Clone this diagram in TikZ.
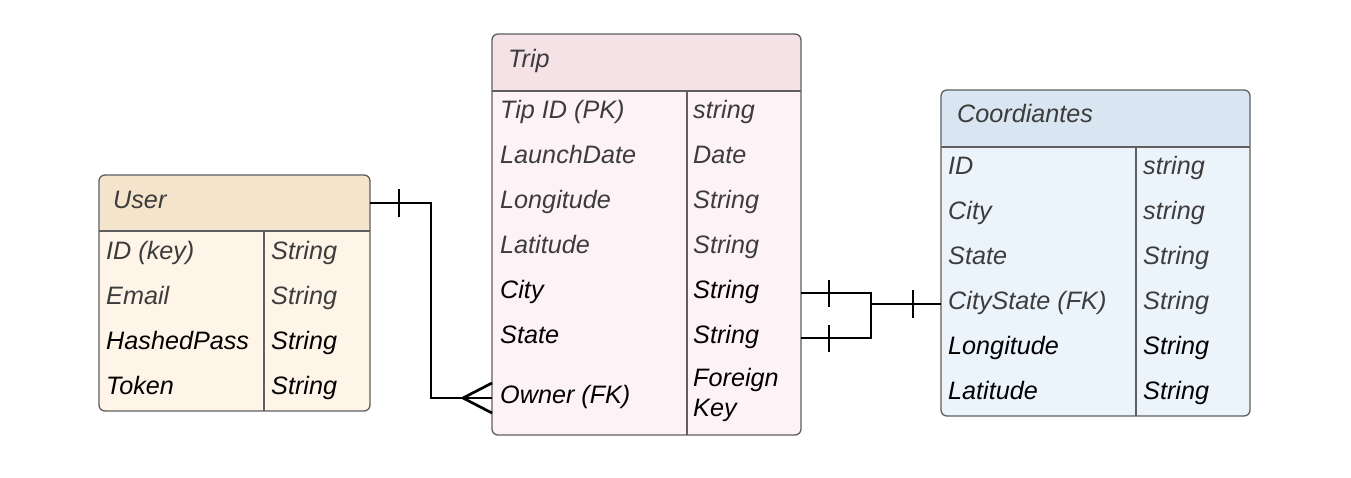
\documentclass[tikz,border=0pt]{standalone}
\usepackage{fontspec}
\setmainfont{Liberation Sans}
\begin{document}
\begin{tikzpicture}[x=1pt,y=-1pt,
  tbl/.style={draw=bordergrey, line width=1.3pt, rounded corners=6pt, anchor=north west, inner sep=0pt, outer sep=0pt},
  sep/.style={draw=bordergrey, line width=1.3pt},
  txt/.style={anchor=base west, inner sep=0pt, font=\fontsize{25.2}{30}\selectfont\itshape, text=txtgrey},
  txtb/.style={txt, text=black},
  conn/.style={draw=black, line width=2.7pt},
  tick/.style={draw=black, line width=2.7pt}]
\definecolor{bordergrey}{HTML}{5F5F5F}
\definecolor{txtgrey}{HTML}{3C3C3C}
\definecolor{userhead}{HTML}{F5E4CC}
\definecolor{userbody}{HTML}{FEF4E7}
\definecolor{triphead}{HTML}{F4E2E6}
\definecolor{tripbody}{HTML}{FDF2F5}
\definecolor{coordhead}{HTML}{D9E6F1}
\definecolor{coordbody}{HTML}{EBF3FB}
\useasboundingbox (0,0) rectangle (1351,477);
\fill[white] (0,0) rectangle (1351,477);

% ---------- User ----------
\node[tbl, fill=userbody, minimum width=271pt, minimum height=236pt,
  path picture={\fill[userhead] (path picture bounding box.north west) rectangle ([yshift=-56pt]path picture bounding box.north east);}]
  (user) at (99,175) {};
\draw[sep] (99,231) -- (370,231);
\draw[sep] (264,231) -- (264,411);
\node[txt] (userT) at (113,208) {User};
\node[txt] (u1a) at (106,259) {ID (key)};
\node[txt] (u1b) at (271,259) {String};
\node[txt] (u2a) at (106,304) {Email};
\node[txt] (u2b) at (271,304) {String};
\node[txtb] (u3a) at (106,349) {HashedPass};
\node[txtb] (u3b) at (271,349) {String};
\node[txtb] (u4a) at (106,394) {Token};
\node[txtb] (u4b) at (271,394) {String};

% ---------- Trip ----------
\node[tbl, fill=tripbody, minimum width=309pt, minimum height=401pt,
  path picture={\fill[triphead] (path picture bounding box.north west) rectangle ([yshift=-57pt]path picture bounding box.north east);}]
  (trip) at (492,34) {};
\draw[sep] (492,91) -- (801,91);
\draw[sep] (687,91) -- (687,435);
\node[txt] (tripT) at (508,67) {Trip};
\node[txt] (t1a) at (500,118) {Tip ID (PK)};
\node[txt] (t1b) at (693,118) {string};
\node[txt] (t2a) at (500,163) {LaunchDate};
\node[txt] (t2b) at (693,163) {Date};
\node[txt] (t3a) at (500,208) {Longitude};
\node[txt] (t3b) at (693,208) {String};
\node[txt] (t4a) at (500,253) {Latitude};
\node[txt] (t4b) at (693,253) {String};
\node[txtb] (t5a) at (500,298) {City};
\node[txtb] (t5b) at (693,298) {String};
\node[txtb] (t6a) at (500,343) {State};
\node[txtb] (t6b) at (693,343) {String};
\node[txtb] (t7a) at (500,403) {Owner (FK)};
\node[txtb] (t7b) at (693,386) {Foreign};
\node[txtb] (t7c) at (693,416) {Key};

% ---------- Coordiantes ----------
\node[tbl, fill=coordbody, minimum width=309pt, minimum height=326pt,
  path picture={\fill[coordhead] (path picture bounding box.north west) rectangle ([yshift=-57pt]path picture bounding box.north east);}]
  (coord) at (941,90) {};
\draw[sep] (941,147) -- (1250,147);
\draw[sep] (1136,147) -- (1136,416);
\node[txt] (coordT) at (957,122) {Coordiantes};
\node[txt] (c1a) at (948,174) {ID};
\node[txt] (c1b) at (1143,174) {string};
\node[txt] (c2a) at (948,219) {City};
\node[txt] (c2b) at (1143,219) {string};
\node[txt] (c3a) at (948,264) {State};
\node[txt] (c3b) at (1143,264) {String};
\node[txt] (c4a) at (948,309) {CityState (FK)};
\node[txt] (c4b) at (1143,309) {String};
\node[txtb] (c5a) at (948,354) {Longitude};
\node[txtb] (c5b) at (1143,354) {String};
\node[txtb] (c6a) at (948,399) {Latitude};
\node[txtb] (c6b) at (1143,399) {String};

% ---------- connector endpoints ----------
\coordinate (uOut) at (user.north east |- 0,203);
\coordinate (tOwner) at (trip.west |- 0,398);
\coordinate (tCity) at (trip.east |- 0,293);
\coordinate (tState) at (trip.east |- 0,338);
\coordinate (cCS) at (coord.west |- 0,304);
\coordinate (crow) at (463,398);

% User -- Trip (one to many)
\draw[conn] (uOut) -- (431,203) |- (tOwner);
\draw[tick] (399,189) -- (399,217);
\draw[conn] (crow) -- (492,383);
\draw[conn] (crow) -- (492,413);

% Trip -- Coordiantes (one to one)
\draw[conn] (tCity) -- (871,293) -- (871,338) -- (tState);
\draw[conn] (871,304) -- (cCS);
\draw[tick] (829,280) -- (829,307);
\draw[tick] (829,325) -- (829,352);
\draw[tick] (913,290) -- (913,318);
\end{tikzpicture}
\end{document}
